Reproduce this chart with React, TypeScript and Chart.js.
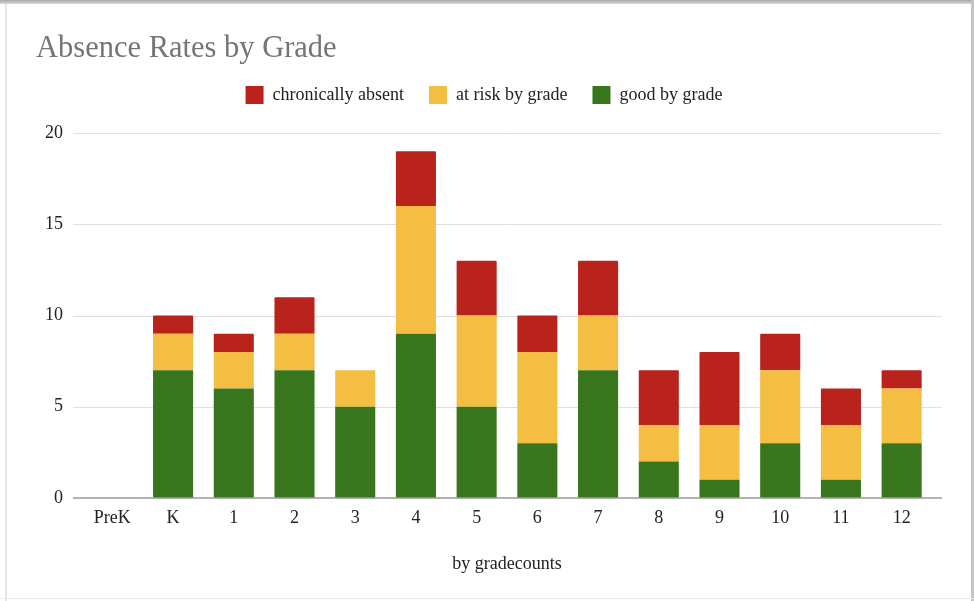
import React, { useEffect, useRef } from "react";
import { Chart, registerables } from "chart.js";

Chart.register(...registerables);

const grades = ["PreK", "K", "1", "2", "3", "4", "5", "6", "7", "8", "9", "10", "11", "12"];
const goodByGrade = [0, 7, 6, 7, 5, 9, 5, 3, 7, 2, 1, 3, 1, 3];
const atRiskByGrade = [0, 2, 2, 2, 2, 7, 5, 5, 3, 2, 3, 4, 3, 3];
const chronicallyAbsent = [0, 1, 1, 2, 0, 3, 3, 2, 3, 3, 4, 2, 2, 1];
const yTicks = [0, 5, 10, 15, 20];

const FONT = "'Liberation Serif', 'Times New Roman', serif";

const gridPlugin = {
  id: "extGrid",
  beforeInit(chart: any) {
    const lg = chart.legend;
    if (lg) {
      const orig = lg.fit.bind(lg);
      lg.fit = () => {
        orig();
        lg.height += 19;
      };
    }
  },
  beforeDatasetsDraw(chart: any) {
    const { ctx, chartArea, scales } = chart;
    const y = scales.y;
    ctx.save();
    ctx.strokeStyle = "#e0e0e0";
    ctx.lineWidth = 1;
    for (const t of yTicks) {
      if (t === 0) continue;
      const py = Math.round(y.getPixelForValue(t)) + 0.5;
      ctx.beginPath();
      ctx.moveTo(chartArea.left - 9, py);
      ctx.lineTo(chartArea.right + 10, py);
      ctx.stroke();
    }
    ctx.restore();
  },
  afterDatasetsDraw(chart: any) {
    const { ctx, chartArea, scales } = chart;
    const py = Math.round(scales.y.getPixelForValue(0));
    ctx.save();
    ctx.strokeStyle = "#9a9a9a";
    ctx.lineWidth = 1.5;
    ctx.beginPath();
    ctx.moveTo(chartArea.left - 9, py);
    ctx.lineTo(chartArea.right + 10, py);
    ctx.stroke();
    ctx.restore();
  },
};

export default function App() {
  const ref = useRef<HTMLCanvasElement>(null);

  useEffect(() => {
    if (!ref.current) return;
    const chart = new Chart(ref.current, {
      type: "bar",
      data: {
        labels: grades,
        datasets: [
          { label: "good by grade", data: goodByGrade, backgroundColor: "#38761d" },
          { label: "at risk by grade", data: atRiskByGrade, backgroundColor: "#f3be41" },
          { label: "chronically absent", data: chronicallyAbsent, backgroundColor: "#b9231b" },
        ],
      },
      options: {
        animation: false,
        responsive: false,
        maintainAspectRatio: false,
        layout: { padding: { left: 36, right: 42, top: 0, bottom: 0 } },
        datasets: { bar: { categoryPercentage: 1, barPercentage: 0.66, borderRadius: 1 } } as any,
        plugins: {
          title: {
            display: true,
            text: "Absence Rates by Grade",
            align: "start",
            color: "#757575",
            font: { family: FONT, size: 30.5, weight: "normal" },
            padding: { top: 31, bottom: -6.6 },
          },
          legend: {
            display: true,
            position: "top",
            reverse: true,
            labels: {
              boxWidth: 18,
              boxHeight: 18,
              padding: 25,
              color: "#222",
              font: { family: FONT, size: 18 },
            },
          },
          tooltip: { enabled: false },
        },
        scales: {
          x: {
            stacked: true,
            grid: { display: false, drawTicks: false },
            border: { display: false },
            ticks: { color: "#222", font: { family: FONT, size: 18 }, padding: 9, maxRotation: 0 },
            title: {
              display: true,
              text: "by gradecounts",
              color: "#222",
              font: { family: FONT, size: 18 },
              padding: { top: 0, bottom: 26 },
            },
            afterFit: (s: any) => {
              s.height = 103;
            },
          },
          y: {
            stacked: true,
            min: 0,
            max: 20,
            grid: { display: false, drawTicks: false },
            border: { display: false },
            ticks: {
              stepSize: 5,
              color: "#222",
              padding: 19,
              font: { family: FONT, size: 18 },
            },
            afterFit: (s: any) => {
              s.width = 46;
            },
          },
        },
      },
      plugins: [gridPlugin],
    });
    return () => chart.destroy();
  }, []);

  return (
    <div style={{ position: "absolute", left: 0, top: 0, width: 974, height: 601, background: "#fff", overflow: "hidden" }}>
      <canvas ref={ref} width={974} height={601} style={{ position: "absolute", left: 0, top: 0, width: 974, height: 601 }} />
      <div style={{ position: "absolute", left: 0, top: 0, width: 974, height: 4, background: "linear-gradient(#a8a8a8, #d8d8d8)" }} />
      <div style={{ position: "absolute", left: 5, top: 4, width: 2, height: 597, background: "#e4e4e4" }} />
      <div style={{ position: "absolute", left: 971, top: 0, width: 3, height: 601, background: "#c4c4c4" }} />
      <div style={{ position: "absolute", left: 0, top: 598, width: 974, height: 1, background: "#ececec" }} />
    </div>
  );
}
